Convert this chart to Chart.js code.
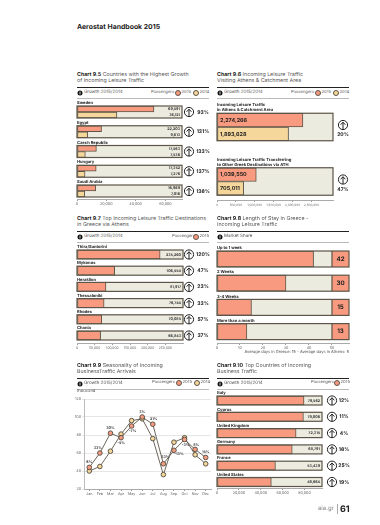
<!DOCTYPE html>
<html lang="en">
<head>
  <meta charset="UTF-8" />
  <title>Aerostat Handbook 2015</title>
  <script src="https://cdn.jsdelivr.net/npm/chart.js"></script>
  <style>
    html, body { margin: 0; background: #fff; }
    body { position: relative; width: 380px; height: 525px; overflow: hidden; font-family: Inter, sans-serif; color: #222; text-rendering: geometricPrecision; }
    canvas { position: absolute; }
    .t { position: absolute; white-space: nowrap; line-height: 1; transform: translateY(-50%); }
    .title { font-size: 5.3px; color: #555; }
    .title b { color: #222; }
    .small { font-size: 4.2px; color: #555; }
    .rule { position: absolute; height: 1.2px; background: #222; }
    .thin { position: absolute; height: 1px; background: #bbb; }
    .dot { position: absolute; width: 4px; height: 4px; border-radius: 50%; border: 1px solid #5c5548; transform: translate(-50%, -50%); }
    .mark { position: absolute; width: 5px; height: 5px; border-radius: 50%; background: #111; transform: translate(-50%, -50%); }
    .mark::after { content: ""; position: absolute; left: 2.1px; top: 1px; width: 0.8px; height: 3px; background: #ccc; }
  </style>
</head>
<body>
  <script>
    const countries95 = ["Sweden", "Egypt", "Czech Republic", "Hungary", "Saudi Arabia"];
    const passengers95_2015 = [69591, 22203, 17563, 17352, 16969];
    const passengers95_2014 = [36121, 9613, 7536, 7276, 7016];
    const growth95 = [93, 131, 133, 137, 136];
    const ticks95 = [0, 26500, 53000, 80000];
    const tickLabels95 = ["0", "20,000", "40,000", "60,000"];

    const headings96 = [
      ["Incoming Leisure Traffic", "in Athens & Catchment Area"],
      ["Incoming Leisure Traffic Transferring", "to Other Greek Destinations via ATH"]
    ];
    const passengers96_2015 = [2274266, 1039550];
    const passengers96_2014 = [1893628, 705011];
    const growth96 = [20, 47];
    const ticks96 = [0, 500000, 1000000, 1500000, 2000000, 2500000];

    const destinations97 = ["Thira/Santorini", "Mykonos", "Heraklion", "Thessaloniki", "Rhodes", "Chania"];
    const passengers97 = [235260, 106554, 81917, 76744, 70085, 66843];
    const growth97 = [120, 47, 23, 33, 57, 37];
    const ticks97 = [0, 50000, 100000, 150000, 200000, 250000];

    const stays98 = ["Up to 1 week", "2 Weeks", "3-4 Weeks", "More than a month"];
    const shares98 = [42, 30, 15, 13];
    const ticks98 = [0, 10, 20, 30, 40, 50];

    const months99 = ["Jan", "Feb", "Mar", "Apr", "May", "Jun", "Jul", "Aug", "Sep", "Oct", "Nov", "Dec"];
    const arrivals99_2015 = [44, 60, 82, 77, 90, 100, 92, 48, 63, 75, 64, 55];
    const arrivals99_2014 = [40, 45, 62, 81, 96, 98, 76, 36, 72, 77, 58, 48];
    const growth99 = ["6%", "33%", "30%", "-5%", "-7%", "3%", "21%", "33%", "-13%", "-3%", "8%", "15%"];
    const ticks99 = [20, 40, 60, 80, 100, 120];

    const countries910 = ["Italy", "Cyprus", "United Kingdom", "Germany", "France", "United States"];
    const passengers910 = [79562, 79006, 72315, 68791, 53439, 49664];
    const growth910 = [12, 11, 4, 16, 25, 19];
    const ticks910 = [0, 20000, 40000, 60000, 80000];

    const RED = "#f79a7f";
    const YELLOW = "#f6d79b";
    const TRACK = "#ecebe0";
    const EDGE = "#5c5548";
    const FONT = "Inter, sans-serif";

    // keeps tiny canvas text from being hinted out of shape
    Chart.register({
      id: "smoothText",
      beforeDraw(chart) { chart.ctx.textRendering = "geometricPrecision"; }
    });

    function addText(cls, x, y, html, extra) {
      const el = document.createElement("div");
      el.className = "t " + cls;
      el.style.left = x + "px";
      el.style.top = y + "px";
      el.innerHTML = html;
      if (extra) el.style.cssText += extra;
      document.body.appendChild(el);
      return el;
    }

    function addBox(cls, x, y, w, color) {
      const el = document.createElement("div");
      el.className = cls;
      el.style.left = x + "px";
      el.style.top = y + "px";
      if (w) el.style.width = w + "px";
      if (color) el.style.background = color;
      document.body.appendChild(el);
      return el;
    }

    // title, rules and legend row above each panel
    function panelHead(x, y, right, num, line1, line2, legend) {
      addText("title", x, y, "<b>Chart " + num + "</b> " + line1);
      addText("title", x, y + 6, line2);
      addBox("rule", x, y + 10.5, right - x);
      addBox("mark", x + 3, y + 17);
      addText("small", x + 7, y + 17, legend, "font-size:4.5px;");
      addBox("thin", x, y + 22, right - x);
    }

    function legendRow(y, labelX, items) {
      addText("small", labelX, y, "Passengers");
      items.forEach(it => {
        addBox("dot", it.x, y, 0, it.color);
        addText("small", it.x + 3.5, y, it.text);
      });
    }

    function drawIcon(ctx, x, y) {
      ctx.save();
      ctx.strokeStyle = "#222";
      ctx.lineWidth = 1;
      ctx.beginPath();
      ctx.arc(x, y, 4.6, 0, Math.PI * 2);
      ctx.stroke();
      ctx.beginPath();
      ctx.moveTo(x, y + 4.6);
      ctx.lineTo(x, y - 2.6);
      ctx.moveTo(x - 2.4, y - 0.2);
      ctx.lineTo(x, y - 2.8);
      ctx.lineTo(x + 2.4, y - 0.2);
      ctx.stroke();
      ctx.restore();
    }

    function label(ctx, text, x, y, font, color, align) {
      ctx.font = font + " " + FONT;
      ctx.fillStyle = color;
      ctx.textAlign = align || "left";
      ctx.textBaseline = "middle";
      ctx.fillText(text, x, y);
    }

    // track behind the bars, row headings, growth icons
    const rowsPlugin = {
      id: "rows",
      beforeDatasetsDraw(chart, args, o) {
        const { ctx, chartArea: area, scales } = chart;
        o.heads.forEach((head, i) => {
          const cy = scales.y.getPixelForValue(i);
          const top = cy - o.trackH / 2;
          ctx.fillStyle = TRACK;
          ctx.fillRect(area.left, top, area.width, o.trackH);
          if (o.columnFrom !== undefined) {
            const cx = scales.x.getPixelForValue(o.columnFrom);
            ctx.fillStyle = RED;
            ctx.fillRect(cx, top, area.right - cx, o.trackH);
          }
          const lines = [].concat(head);
          lines.forEach((line, k) => {
            label(ctx, line, area.left, top - (lines.length - k) * 5 + 2, "bold 4.1px", "#222");
          });
        });
      },
      afterDatasetsDraw(chart, args, o) {
        const { ctx, chartArea: area, scales } = chart;
        o.heads.forEach((head, i) => {
          const cy = scales.y.getPixelForValue(i);
          const top = cy - o.trackH / 2;
          ctx.strokeStyle = EDGE;
          ctx.lineWidth = 1.2;
          ctx.strokeRect(area.left, top, area.width, o.trackH);
          if (o.columnFrom !== undefined) {
            const cx = scales.x.getPixelForValue(o.columnFrom);
            ctx.beginPath();
            ctx.moveTo(cx, top);
            ctx.lineTo(cx, top + o.trackH);
            ctx.stroke();
            label(ctx, String(chart.data.datasets[0].data[i].x), (cx + area.right) / 2, cy, "bold 6.2px", "#222", "center");
          }
          if (o.growth) {
            drawIcon(ctx, o.iconX, cy + (o.iconDy || 0));
            label(ctx, o.growth[i] + "%", o.pctX, cy + (o.pctDy || 0), "bold 5px", "#222", "center");
          }
          if (o.valueMode) {
            chart.data.datasets.forEach((ds, d) => {
              const bar = chart.getDatasetMeta(d).data[i];
              const txt = ds.data[i].x.toLocaleString("en-US");
              if (o.valueMode === "inside") label(ctx, txt, area.left + 3, bar.y, "bold 5.4px", "#222");
              else label(ctx, txt, area.right - 2, bar.y, "bold 3.6px", "#333", "right");
            });
          }
        });
      }
    };

    // horizontal bars: c0 is the first row centre, gap the row spacing, both page pixels
    function rowsChart(c) {
      const canvas = document.createElement("canvas");
      const headLines = [].concat(c.heads[0]).length;
      const left = c.x0 - 7, right = c.canvasRight;
      const top = Math.floor(c.c0 - c.trackH / 2 - headLines * 5 - 2);
      canvas.style.left = left + "px";
      canvas.style.top = top + "px";
      canvas.width = right - left;
      canvas.height = c.axisY + 14 - top;
      document.body.appendChild(canvas);
      const rowMin = (top - c.c0) / c.gap;
      const rowMax = (c.axisY - c.c0) / c.gap;
      new Chart(canvas, {
        type: "bar",
        data: {
          datasets: c.series.map(s => ({
            data: s.values.map((v, i) => ({ x: v, y: i })),
            backgroundColor: s.color,
            borderColor: EDGE,
            borderWidth: 1,
            borderSkipped: false,
            barThickness: c.trackH / c.series.length
          }))
        },
        options: {
          indexAxis: "y",
          responsive: false,
          animation: false,
          layout: { autoPadding: false, padding: { left: 7, right: right - c.x1, top: 0, bottom: 2 } },
          plugins: {
            legend: { display: false },
            tooltip: { enabled: false },
            rows: {
              heads: c.heads, trackH: c.trackH, growth: c.growth, iconX: c.iconX - left, pctX: c.pctX - left,
              iconDy: c.iconDy, pctDy: c.pctDy, valueMode: c.valueMode, columnFrom: c.columnFrom
            }
          },
          scales: {
            y: { type: "linear", display: false, offset: false, reverse: true, min: rowMin, max: rowMax },
            x: {
              type: "linear", min: 0, max: c.xMax,
              afterFit(s) { s.height = 12; },
              afterBuildTicks(s) { s.ticks = c.ticks.map(v => ({ value: v })); },
              grid: { drawOnChartArea: false, tickLength: 2, color: "#999" },
              border: { color: "#aaa" },
              ticks: {
                autoSkip: false, maxRotation: 0, padding: 1, color: "#666",
                font: { size: c.tickSize || 3.7, family: FONT },
                callback(v, i) { return c.tickLabels ? c.tickLabels[i] : v.toLocaleString("en-US"); }
              }
            }
          }
        },
        plugins: [rowsPlugin]
      });
    }

    addText("", 77, 27, "Aerostat Handbook 2015", "font-size:6.9px;font-weight:700;color:#1c1c1c;");

    panelHead(77, 76, 209, "9.5", "Countries with the Highest Growth", "of Incoming Leisure Traffic", "Growth 2015/2014");
    legendRow(93, 151, [{ x: 178, color: RED, text: "2015" }, { x: 196, color: YELLOW, text: "2014" }]);
    rowsChart({
      x0: 77, x1: 182, canvasRight: 212, axisY: 199, c0: 112, gap: 19.75, trackH: 12, xMax: 95000,
      heads: countries95, growth: growth95, iconX: 189, pctX: 203, valueMode: "end",
      ticks: ticks95, tickLabels: tickLabels95,
      series: [{ values: passengers95_2015, color: RED }, { values: passengers95_2014, color: YELLOW }]
    });

    panelHead(217, 76, 349, "9.6", "Incoming Leisure Traffic", "Visiting Athens & Catchment Area", "Growth 2015/2014");
    legendRow(93, 291, [{ x: 318, color: RED, text: "2015" }, { x: 336, color: YELLOW, text: "2014" }]);
    rowsChart({
      x0: 217, x1: 333, canvasRight: 352, axisY: 200, c0: 127, gap: 54.5, trackH: 27.5, xMax: 3070000,
      heads: headings96, growth: growth96, iconX: 343, pctX: 343, iconDy: -2, pctDy: 7.5, valueMode: "inside",
      ticks: ticks96, tickSize: 3.1,
      series: [{ values: passengers96_2015, color: RED }, { values: passengers96_2014, color: YELLOW }]
    });

    panelHead(77, 220, 209, "9.7", "Top Incoming Leisure Traffic Destinations", "in Greece via Athens", "Growth 2015/2014");
    legendRow(237, 172, [{ x: 196, color: RED, text: "2015" }]);
    rowsChart({
      x0: 77, x1: 183, canvasRight: 212, axisY: 343, c0: 254.5, gap: 16.2, trackH: 9, xMax: 300000,
      heads: destinations97, growth: growth97, iconX: 189, pctX: 203, valueMode: "end",
      ticks: ticks97, tickSize: 3.3,
      series: [{ values: passengers97, color: RED }]
    });

    panelHead(217, 220, 349, "9.8", "Length of Stay in Greece -", "Incoming Leisure Traffic", "Market Share");
    rowsChart({
      x0: 217, x1: 349, canvasRight: 352, axisY: 343, c0: 259, gap: 24.2, trackH: 16, xMax: 57.4,
      heads: stays98, columnFrom: 50,
      ticks: ticks98, tickLabels: ticks98.map(String),
      series: [{ values: shares98, color: RED }]
    });
    addText("small", 349, 352, "Average days in Greece: 15 - Average days in Athens: 5", "transform:translate(-100%,-50%);font-size:4px;");

    panelHead(77, 367, 209, "9.9", "Seasonality of Incoming", "BusinessTraffic Arrivals", "Growth 2015/2014");
    legendRow(383, 152, [{ x: 179, color: RED, text: "2015" }, { x: 197, color: YELLOW, text: "2014" }]);
    addText("small", 77, 392, "thousand");

    // offsets of the growth labels from their 2015 points
    const growthLabelDx = [0, -2, 0, 0, 1, 0, 1, 2, 5, 1, 1, 0];
    const growthLabelDy = [-5, -5, -5, 5, 5, -5, -5, -7, 4, 5, -4, -6];
    const growthLabels = {
      id: "growthLabels",
      afterDatasetsDraw(chart) {
        chart.getDatasetMeta(0).data.forEach((pt, i) => {
          label(chart.ctx, growth99[i], pt.x + growthLabelDx[i], pt.y + growthLabelDy[i], "bold 3.6px", "#333", "center");
        });
      }
    };
    const lineCanvas = document.createElement("canvas");
    lineCanvas.style.left = "70px";
    lineCanvas.style.top = "395px";
    lineCanvas.width = 145;
    lineCanvas.height = 108;
    document.body.appendChild(lineCanvas);
    const lineSeries = (values, color) => ({
      data: values, borderColor: EDGE, borderWidth: 0.9, tension: 0,
      pointRadius: 2.3, pointBorderWidth: 1, pointBorderColor: EDGE, pointBackgroundColor: color
    });
    new Chart(lineCanvas, {
      type: "line",
      data: { labels: months99, datasets: [lineSeries(arrivals99_2015, RED), lineSeries(arrivals99_2014, YELLOW)] },
      options: {
        responsive: false,
        animation: false,
        layout: { autoPadding: false, padding: { left: 0, right: 4, top: 4, bottom: 2 } },
        plugins: { legend: { display: false }, tooltip: { enabled: false } },
        scales: {
          x: {
            offset: true,
            afterFit(s) { s.height = 12; },
            grid: { offset: false, drawOnChartArea: false, tickLength: 2, color: "#999" },
            border: { color: "#aaa" },
            ticks: { autoSkip: false, maxRotation: 0, padding: 1, color: "#666", font: { size: 3.7, family: FONT } }
          },
          y: {
            min: 20, max: 120,
            afterFit(s) { s.width = 14; },
            afterBuildTicks(s) { s.ticks = ticks99.map(v => ({ value: v })); },
            grid: { color: "#e6e6e6", lineWidth: 1, tickLength: 2 },
            border: { color: "#bbb" },
            ticks: { padding: 1, color: "#666", font: { size: 3.7, family: FONT } }
          }
        }
      },
      plugins: [growthLabels]
    });

    panelHead(217, 367, 349, "9.10", "Top Countries of Incoming", "Business Traffic", "Growth 2015/2014");
    legendRow(383, 311, [{ x: 337, color: RED, text: "2015" }]);
    rowsChart({
      x0: 217, x1: 322, canvasRight: 352, axisY: 488, c0: 400.5, gap: 16.3, trackH: 9, xMax: 96000,
      heads: countries910, growth: growth910, iconX: 332, pctX: 344, valueMode: "end",
      ticks: ticks910,
      series: [{ values: passengers910, color: RED }]
    });

    addText("", 318, 509, "aia.gr", "font-size:6px;color:#888;");
    addBox("thin", 336.5, 504, 0).style.cssText += "width:0.8px;height:10px;background:#aaa;";
    addText("", 340, 509, "61", "font-size:9px;font-weight:700;color:#222;");
  </script>
</body>
</html>
